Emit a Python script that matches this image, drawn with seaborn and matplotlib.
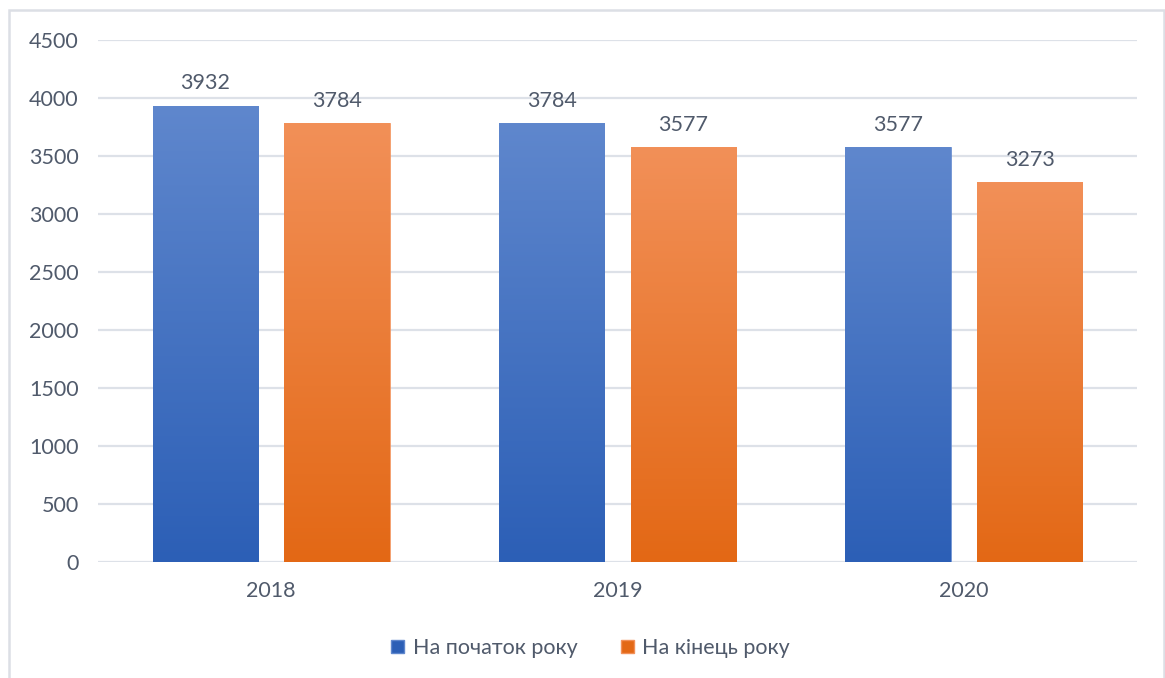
import numpy as np
import pandas as pd
import matplotlib
matplotlib.use("Agg")
import matplotlib.pyplot as plt
from matplotlib.patches import Rectangle
from matplotlib.colors import LinearSegmentedColormap
import seaborn as sns

years = ["2018", "2019", "2020"]
start_of_year = [3932, 3784, 3577]
end_of_year = [3784, 3577, 3273]
series_names = ["На початок року", "На кінець року"]
y_ticks = [0, 500, 1000, 1500, 2000, 2500, 3000, 3500, 4000, 4500]

df = pd.DataFrame({
    "year": years * 2,
    "value": start_of_year + end_of_year,
    "series": [series_names[0]] * 3 + [series_names[1]] * 3,
})

sns.set_theme(style="white")
plt.rcParams["font.family"] = ["Lato", "DejaVu Sans"]
text_color = "#505a6b"
grid_color = "#dde1e8"
fs = 15.5

# top (light) and bottom (dark) colours for the vertical gradient fill
gradients = {
    series_names[0]: ("#5f87cd", "#2c5fb6"),
    series_names[1]: ("#f29058", "#e36815"),
}
solid = {series_names[0]: "#4472c4", series_names[1]: "#ed7d31"}

fig = plt.figure(figsize=(11.65, 6.78), dpi=100)
ax = fig.add_axes([98 / 1165, 1 - 562 / 678, (1137 - 98) / 1165, (562 - 40) / 678])

sns.barplot(data=df, x="year", y="value", hue="series", palette=solid,
            width=0.76, gap=0.2, ax=ax, legend=False, saturation=1)

ax.set_ylim(0, 4500)
ax.set_xlim(-0.5, 2.5)
ax.set_yticks(y_ticks)
ax.set_yticklabels([str(t) for t in y_ticks])
ax.set_xlabel("")
ax.set_ylabel("")
for s in ax.spines.values():
    s.set_visible(False)
ax.grid(axis="y", color=grid_color, lw=1.6, zorder=0)
ax.set_axisbelow(True)
ax.tick_params(axis="both", length=0, labelsize=fs, labelcolor=text_color)
ax.tick_params(axis="y", pad=14)
ax.tick_params(axis="x", pad=14)

# replace flat fills with vertical gradients clipped to each bar
grad = np.linspace(0, 1, 256).reshape(-1, 1)
for container, name in zip(ax.containers, series_names):
    top, bottom = gradients[name]
    cmap = LinearSegmentedColormap.from_list(name, [bottom, top])
    for patch in container:
        x0, y0 = patch.get_x(), patch.get_y()
        w, h = patch.get_width(), patch.get_height()
        patch.set_facecolor("none")
        patch.set_edgecolor(top)
        patch.set_linewidth(0.6)
        im = ax.imshow(grad, cmap=cmap, aspect="auto", origin="lower",
                       extent=[x0, x0 + w, y0, y0 + h], zorder=2)
        im.set_clip_path(patch)
    ax.bar_label(container, fmt="%d", padding=9, fontsize=fs, color=text_color)

ax.set_xlim(-0.5, 2.5)
ax.set_ylim(0, 4500)

# legend below the plot
handles = [Rectangle((0, 0), 1, 1, facecolor=gradients[n][1], edgecolor=gradients[n][0])
           for n in series_names]
fig.legend(handles, series_names, loc="center", bbox_to_anchor=(0.507, 1 - 648 / 678),
           ncol=2, frameon=False, fontsize=fs, labelcolor=text_color,
           handlelength=0.6, handleheight=0.6, handletextpad=0.4, columnspacing=2.0)

# thin frame around the chart area
fig.patches.append(Rectangle((8.5 / 1165, -0.05), (1164 - 8.5) / 1165, 1.05 - 10 / 678,
                             transform=fig.transFigure, fill=False,
                             edgecolor="#dcdfe5", lw=1.8))

fig.savefig("out.png", dpi=100, facecolor="white")
